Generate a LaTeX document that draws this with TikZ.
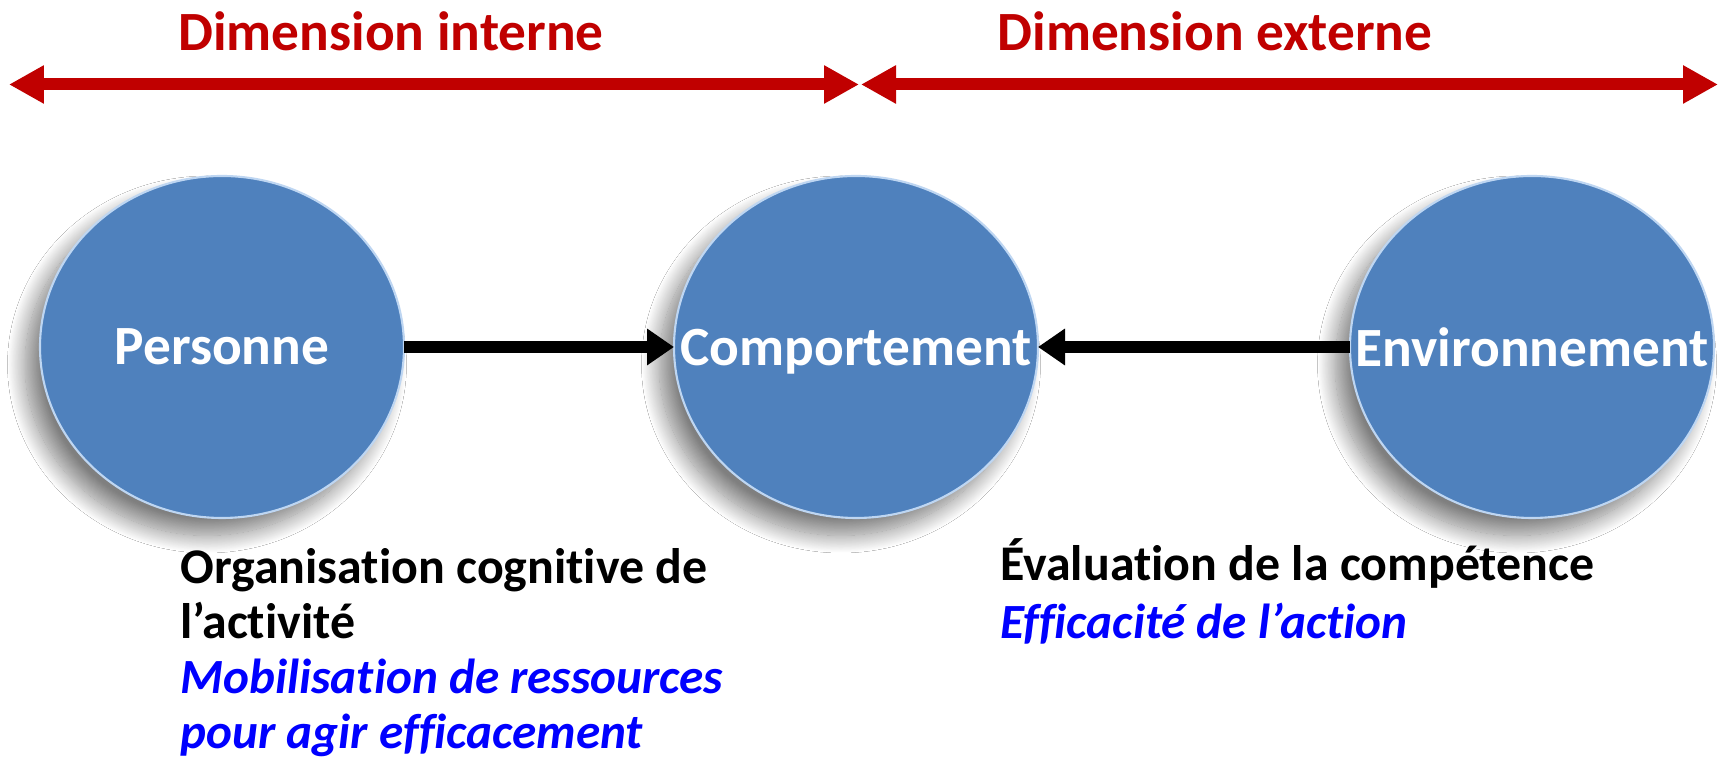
\documentclass[tikz,border=0pt]{standalone}
\usepackage{fontspec}
\setmainfont{Carlito}[Ligatures=NoCommon]
\usetikzlibrary{arrows.meta,shapes.geometric,shadows.blur}
\definecolor{dimred}{RGB}{192,0,0}
\definecolor{ovalblue}{RGB}{79,129,189}
\definecolor{rimblue}{RGB}{190,214,242}
\newcommand{\dimfont}{\fontsize{31.5}{31.5}\selectfont\bfseries}
\newcommand{\notefont}{\fontsize{28.4}{28.4}\selectfont\bfseries}
\tikzset{
	oval/.style={ellipse, fill=ovalblue, draw=rimblue, line width=1.2pt,
		minimum width=7.28cm, minimum height=6.84cm, inner sep=0pt, outer sep=0pt,
		blur shadow={shadow xshift=-0.3cm, shadow yshift=-0.35cm, shadow blur radius=0.35cm,
			shadow blur steps=24, shadow opacity=50}},
	ovaltext/.style={text=white, font=\dimfont, inner sep=0pt, text depth=0pt},
	dimarrow/.style={draw=dimred, line width=0.24cm,
		{Triangle[length=0.7cm,width=0.72cm]}-{Triangle[length=0.7cm,width=0.72cm]}},
	linkarrow/.style={draw=black, line width=0.23cm, -{Triangle[length=0.54cm,width=0.7cm]}},
	dimlabel/.style={text=dimred, font=\dimfont, anchor=base, inner sep=0pt},
	note/.style={anchor=base west, inner sep=0pt, font=\notefont},
	goal/.style={note, text=blue, font=\fontsize{28}{28}\selectfont\bfseries\itshape}
}
\begin{document}
\begin{tikzpicture}
	\useasboundingbox[fill=white] (0,0) rectangle (34.54,15.28);
	% dimensions
	\coordinate (intL) at (0.18,13.59);
	\coordinate (intR) at (17.18,13.59);
	\coordinate (extL) at (17.22,13.59);
	\coordinate (extR) at (34.36,13.59);
	\draw[dimarrow] (intL) -- (intR);
	\draw[dimarrow] (extL) -- (extR);
	\node[dimlabel] (dimint) at (7.82,14.26) {Dimension interne};
	\node[dimlabel] (dimext) at (24.3,14.26) {Dimension externe};
	% ovals
	\node[oval, label={[ovaltext]center:Personne}] (pers) at (4.44,8.34) {};
	\node[oval, label={[ovaltext]center:Comportement}] (comp) at (17.12,8.34) {};
	\node[oval, label={[ovaltext]center:Environnement}] (envi) at (30.64,8.34) {};
	\draw[linkarrow] (pers) -- (comp);
	\draw[linkarrow] (envi) -- (comp);
	% notes
	\node[note] (org1) at (3.6,3.6) {Organisation cognitive de};
	\node[note] (org2) at (3.6,2.5) {l’activité};
	\node[goal] (mob1) at (3.6,1.4) {Mobilisation de ressources};
	\node[goal] (mob2) at (3.6,0.3) {pour agir efficacement};
	\node[note] (eval) at (20.0,3.66) {Évaluation de la compétence};
	\node[goal] (effi) at (20.0,2.5) {Efficacité de l’action};
\end{tikzpicture}
\end{document}
